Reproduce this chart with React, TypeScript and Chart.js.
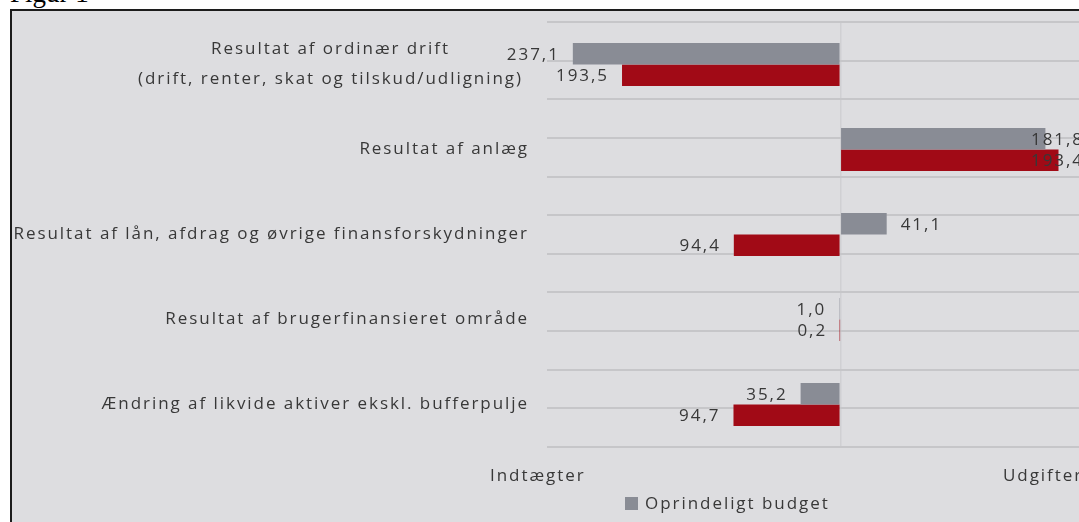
import React, { useEffect, useRef } from 'react';
import { Chart, registerables } from 'chart.js';

Chart.register(...registerables);

// ---- data ----
const figureTitle = 'Figur 1';
const categories: (string | string[])[] = [
  ['Resultat af ordinær drift', '(drift, renter, skat og tilskud/udligning)'],
  'Resultat af anlæg',
  'Resultat af lån, afdrag og øvrige finansforskydninger',
  'Resultat af brugerfinansieret område',
  'Ændring af likvide aktiver ekskl. bufferpulje',
];
const seriesNames = ['Oprindeligt budget', 'Forventet regnskab'];
const budgetValues = [-237.1, 181.8, 41.1, -1.0, -35.2];
const forecastValues = [-193.5, 193.4, -94.4, -0.2, -94.7];
const axisEndLabels = ['Indtægter', 'Udgifter'];

// ---- style ----
const FONT_FAMILY = '"Open Sans", sans-serif';
const FONT_SIZE = 17;
const LETTER_SPACING = '1.95px';
const TEXT_COLOR = '#383838';
const GRAY = '#898c95';
const RED = '#a10a16';
const BG = '#dddde0';
const GRID = '#c6c6c9';
const ZERO = '#d0d0d3';

const CANVAS_W = 1088;
const CANVAS_H = 530;

const decorPlugin = {
  id: 'decor',
  afterDatasetsDraw(chart: any) {
    const { ctx, chartArea } = chart;
    ctx.save();
    ctx.font = `${FONT_SIZE}px ${FONT_FAMILY}`;
    (ctx as any).letterSpacing = LETTER_SPACING;
    ctx.fillStyle = TEXT_COLOR;
    ctx.textBaseline = 'middle';
    chart.data.datasets.forEach((ds: any, di: number) => {
      const meta = chart.getDatasetMeta(di);
      meta.data.forEach((bar: any, i: number) => {
        const v = ds.data[i] as number;
        const txt = Math.abs(v).toFixed(1).replace('.', ',');
        const w = ctx.measureText(txt).width;
        if (v < 0) {
          ctx.textAlign = 'right';
          ctx.fillText(txt, bar.x - 13, bar.y + 1);
        } else {
          ctx.textAlign = 'left';
          const tx = Math.min(bar.x + 14, chartArea.right - w);
          ctx.fillText(txt, tx, bar.y + 1);
        }
      });
    });
    ctx.restore();
  },
  afterDraw(chart: any) {
    const { ctx, chartArea, scales } = chart;
    const y = scales.y;
    ctx.save();
    ctx.font = `${FONT_SIZE}px ${FONT_FAMILY}`;
    (ctx as any).letterSpacing = LETTER_SPACING;
    ctx.fillStyle = TEXT_COLOR;
    ctx.textBaseline = 'middle';
    const right = chartArea.left - 18;
    (chart.data.labels as any[]).forEach((lab, i) => {
      const cy = y.getPixelForValue(i);
      if (Array.isArray(lab)) {
        const maxW = Math.max(...lab.map((l: string) => ctx.measureText(l).width));
        const cx = right - 6 - maxW / 2;
        ctx.textAlign = 'center';
        const lh = 30;
        lab.forEach((l: string, k: number) => {
          ctx.fillText(l, cx, cy + (k - (lab.length - 1) / 2) * lh);
        });
      } else {
        ctx.textAlign = 'right';
        ctx.fillText(lab, right, cy);
      }
    });
    // axis end labels
    const ay = chartArea.bottom + 29;
    ctx.textAlign = 'left';
    ctx.fillText(axisEndLabels[0], chartArea.left - 57, ay);
    ctx.fillText(axisEndLabels[1], chartArea.left + 456, ay);
    // legend (first series)
    const ly = chartArea.bottom + 57;
    const lx = chartArea.left + 78;
    ctx.fillStyle = GRAY;
    ctx.fillRect(lx, ly - 7, 13, 13);
    ctx.fillStyle = TEXT_COLOR;
    ctx.fillText(chart.data.datasets[0].label, lx + 20, ly);
    ctx.restore();
  },
};

export default function App() {
  const ref = useRef<HTMLCanvasElement>(null);
  useEffect(() => {
    const chart = new Chart(ref.current!, {
      type: 'bar',
      data: {
        labels: categories,
        datasets: [
          {
            label: seriesNames[0],
            data: budgetValues,
            backgroundColor: GRAY,
            borderWidth: 0,
            barPercentage: 1,
            categoryPercentage: 0.506,
          },
          {
            label: seriesNames[1],
            data: forecastValues,
            backgroundColor: RED,
            borderWidth: 0,
            barPercentage: 1,
            categoryPercentage: 0.506,
          },
        ],
      },
      options: {
        indexAxis: 'y',
        responsive: false,
        animation: false,
        devicePixelRatio: 1,
        layout: { padding: { left: 535, top: 11, right: 16, bottom: 94 } },
        plugins: { legend: { display: false }, tooltip: { enabled: false } },
        scales: {
          x: {
            type: 'linear',
            min: -260,
            max: 216,
            ticks: { display: false, stepSize: 20 },
            border: { display: false },
            grid: {
              drawTicks: false,
              lineWidth: 1.5,
              color: (c: any) => (c.tick && c.tick.value === 0 ? ZERO : 'transparent'),
            },
          },
          y: {
            type: 'category',
            display: false,
            grid: { display: false },
          },
          y2: {
            type: 'linear',
            position: 'left',
            min: 0,
            max: 10,
            ticks: { display: false, stepSize: 1 },
            border: { display: false },
            grid: { drawTicks: false, color: GRID, lineWidth: 2 },
          },
        },
      },
      plugins: [decorPlugin],
    } as any);
    return () => chart.destroy();
  }, []);

  return (
    <div
      style={{
        position: 'fixed',
        left: 0,
        top: 0,
        width: 1079,
        height: 522,
        overflow: 'hidden',
        background: '#fff',
      }}
    >
      <div
        style={{
          position: 'absolute',
          left: 10,
          top: -20,
          font: '27px "Liberation Serif", serif',
          lineHeight: '27px',
          color: '#000',
          whiteSpace: 'nowrap',
        }}
      >
        {figureTitle}
      </div>
      <div
        style={{
          position: 'absolute',
          left: 10,
          top: 9,
          width: CANVAS_W,
          height: CANVAS_H,
          borderTop: '2px solid #1c1c1c',
          borderLeft: '2px solid #1c1c1c',
          background: BG,
        }}
      >
        <canvas ref={ref} width={CANVAS_W} height={CANVAS_H} style={{ display: 'block' }} />
      </div>
    </div>
  );
}
